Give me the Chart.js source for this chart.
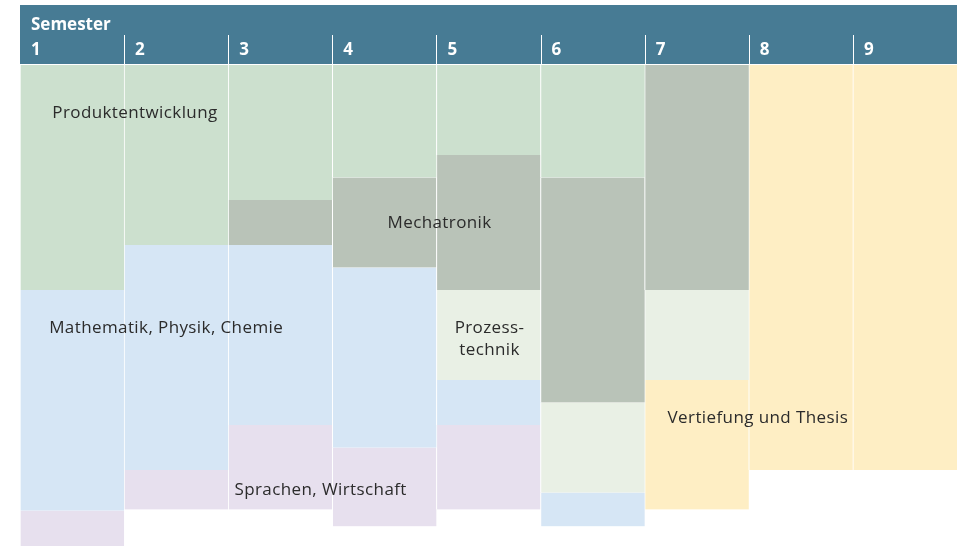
<!DOCTYPE html>
<html>
<head>
<meta charset="utf-8">
<script src="https://cdn.jsdelivr.net/npm/chart.js@4"></script>
<style>
  body { margin: 0; background: #fff; }
  #wrap { width: 964px; height: 546px; position: relative; }
</style>
</head>
<body>
<div id="wrap"><canvas id="myChart"></canvas></div>
<script>
/* global Chart */
const semesters = ['1', '2', '3', '4', '5', '6', '7', '8', '9'];

// workload per semester, stacked from the top down
const produktentwicklung = [20, 16, 12, 10, 8, 10, 0, 0, 0];
const mechatronik = [0, 0, 4, 8, 12, 20, 20, 0, 0];
const prozesstechnik = [0, 0, 0, 0, 8, 8, 8, 0, 0];
const grundlagen = [19.6, 20, 16, 16, 4, 3, 0, 0, 0];
const sprachen = [4, 3.5, 7.5, 7, 7.5, 0, 0, 0, 0];
const vertiefung = [0, 0, 0, 0, 0, 0, 11.5, 36, 36];

const FONT = '"Open Sans", sans-serif';
const HEADER = '#477b94';

// text placed on the blocks: pos = semester position (0 = left edge), val = stack value
const blockLabels = [
  { text: ['Produktentwicklung'], pos: 0.31, val: 4.27, align: 'left' },
  { text: ['Mathematik, Physik, Chemie'], pos: 0.28, val: 23.4, align: 'left' },
  { text: ['Mechatronik'], pos: 3.53, val: 14.1, align: 'left' },
  { text: ['Prozess-', 'technik'], pos: 4.51, val: 23.4, align: 'center' },
  { text: ['Sprachen, Wirtschaft'], pos: 2.06, val: 37.8, align: 'left' },
  { text: ['Vertiefung und Thesis'], pos: 6.22, val: 31.4, align: 'left' },
];

function dataset(label, values, color) {
  return {
    label,
    data: values,
    backgroundColor: color,
    borderColor: '#ffffff',
    borderWidth: { left: 1, right: 0, top: 0, bottom: 0 },
    borderSkipped: false,
    categoryPercentage: 1,
    barPercentage: 1,
  };
}

const headerPlugin = {
  id: 'header',
  beforeDraw(chart) {
    const { ctx, chartArea, scales } = chart;
    const x = scales.x;
    const colW = (chartArea.right - chartArea.left) / semesters.length;
    ctx.save();
    ctx.fillStyle = HEADER;
    ctx.fillRect(chartArea.left, 5, chartArea.right - chartArea.left, chartArea.top - 6);

    ctx.fillStyle = '#ffffff';
    ctx.font = `bold 17px ${FONT}`;
    ctx.textBaseline = 'alphabetic';
    ctx.textAlign = 'left';
    ctx.fillText('Semester', chartArea.left + 11, 30);

    semesters.forEach((s, i) => {
      const left = x.getPixelForValue(i) - colW / 2;
      ctx.fillText(s, left + 11, 55);
      if (i > 0) {
        ctx.fillRect(Math.round(left), 35, 1, chartArea.top - 36);
      }
    });
    ctx.restore();
  },
  afterDatasetsDraw(chart) {
    const { ctx, chartArea, scales } = chart;
    const colW = (chartArea.right - chartArea.left) / semesters.length;
    ctx.save();
    ctx.fillStyle = '#2b2b2b';
    ctx.font = `17px ${FONT}`;
    ctx.letterSpacing = '0.4px';
    ctx.textBaseline = 'middle';
    blockLabels.forEach((l) => {
      const px = chartArea.left + l.pos * colW;
      const py = scales.y.getPixelForValue(l.val);
      ctx.textAlign = l.align;
      l.text.forEach((line, k) => {
        ctx.fillText(line, px, py + k * 22);
      });
    });
    ctx.restore();
  },
};

const chart = new Chart(document.getElementById('myChart'), {
  type: 'bar',
  data: {
    labels: semesters,
    datasets: [
      dataset('Produktentwicklung', produktentwicklung, '#cce0ce'),
      dataset('Mechatronik', mechatronik, '#b9c3b8'),
      dataset('Prozesstechnik', prozesstechnik, '#e9f0e5'),
      dataset('Mathematik, Physik, Chemie', grundlagen, '#d6e6f5'),
      dataset('Sprachen, Wirtschaft', sprachen, '#e7e0ee'),
      dataset('Vertiefung und Thesis', vertiefung, '#feeec4'),
    ],
  },
  options: {
    responsive: true,
    maintainAspectRatio: false,
    animation: false,
    layout: { padding: { top: 65, left: 20, right: 7, bottom: 0 } },
    plugins: { legend: { display: false }, tooltip: { enabled: false } },
    scales: {
      x: { stacked: true, display: false },
      y: { stacked: true, display: false, reverse: true, min: 0, max: 42.75 },
    },
  },
  plugins: [headerPlugin],
});
</script>
</body>
</html>
